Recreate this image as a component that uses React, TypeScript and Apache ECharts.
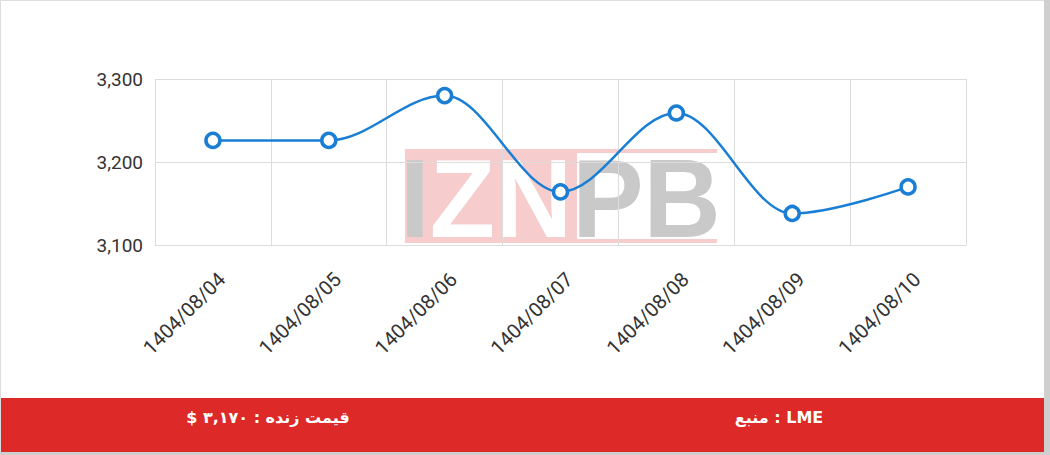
import React, { useEffect, useRef } from "react";
import * as echarts from "echarts";

const categories = [
  "1404/08/04",
  "1404/08/05",
  "1404/08/06",
  "1404/08/07",
  "1404/08/08",
  "1404/08/09",
  "1404/08/10",
];
const prices = [3226, 3226, 3280, 3164, 3259, 3138, 3170];
const yMin = 3100;
const yMax = 3300;
const yStep = 100;
const priceLabel = "$ قیمت زنده : ۳,۱۷۰";
const sourceLabel = "منبع : LME";
const watermarkText = "{g|I}{w|ZN}{g|PB}";

const LINE = "#1a7fd4";
const GRIDC = "#dcdcdc";
const PINK = "#f6cccc";
const WM_GRAY = "#c9c9c9";

export default function App() {
  const ref = useRef<HTMLDivElement>(null);
  useEffect(() => {
    if (!ref.current) return;
    const chart = echarts.init(ref.current, undefined, { renderer: "svg" });
    const wmFont = { fontSize: 112, fontWeight: "bold", fontFamily: "'Liberation Sans', Arial, sans-serif", lineHeight: 112 };
    const wm: any[] = [
      { type: "rect", z: -10, shape: { x: 405, y: 149, width: 172, height: 94 }, style: { fill: PINK } },
      { type: "rect", z: -10, shape: { x: 577, y: 149, width: 140, height: 4 }, style: { fill: PINK } },
      { type: "rect", z: -10, shape: { x: 577, y: 239, width: 140, height: 4 }, style: { fill: PINK } },
      {
        type: "text",
        z: -9,
        x: 400,
        y: 142,
        scaleX: 0.955,
        style: {
          text: watermarkText,
          align: "left",
          verticalAlign: "top",
          rich: {
            g: { ...wmFont, fill: WM_GRAY },
            w: { ...wmFont, fill: "#ffffff" },
          },
        },
      },
    ];
    chart.setOption({
      animation: false,
      backgroundColor: "#ffffff",
      grid: { left: 155, right: 84, top: 79, bottom: 210, containLabel: false },
      graphic: [
        { type: "rect", z: -20, shape: { x: 0, y: 0, width: 1050, height: 1 }, style: { fill: "#dddddd" } },
        { type: "rect", z: -20, shape: { x: 0, y: 0, width: 1, height: 455 }, style: { fill: "#dddddd" } },
        { type: "rect", z: -20, shape: { x: 1044, y: 0, width: 6, height: 455 }, style: { fill: "#cfcfcf" } },
        { type: "rect", z: -20, shape: { x: 0, y: 452, width: 1050, height: 3 }, style: { fill: "#cfcfcf" } },
        { type: "rect", z: -20, shape: { x: 1, y: 398, width: 1043, height: 54 }, style: { fill: "#de2929" } },
        ...wm,
        {
          type: "text",
          x: 268,
          y: 417,
          style: {
            text: priceLabel,
            fill: "#ffffff",
            font: "bold 16px 'DejaVu Sans', sans-serif",
            align: "center",
            verticalAlign: "middle",
          },
        },
        {
          type: "text",
          x: 779,
          y: 417,
          style: {
            text: sourceLabel,
            fill: "#ffffff",
            font: "bold 16px 'DejaVu Sans', sans-serif",
            align: "center",
            verticalAlign: "middle",
          },
        },
      ],
      xAxis: {
        type: "category",
        data: categories,
        boundaryGap: true,
        axisLine: { show: true, lineStyle: { color: GRIDC, width: 1 } },
        axisTick: { show: false },
        splitLine: { show: true, lineStyle: { color: GRIDC, width: 1 } },
        axisLabel: {
          interval: 0,
          rotate: 45,
          margin: 22,
          verticalAlign: "top",
          lineHeight: 25,
          fontSize: 20,
          fontFamily: "Roboto, sans-serif",
          color: "#333333",
        },
      },
      yAxis: {
        type: "value",
        min: yMin,
        max: yMax,
        interval: yStep,
        axisLine: { show: false },
        axisTick: { show: false },
        splitLine: { show: true, lineStyle: { color: GRIDC, width: 1 } },
        axisLabel: {
          margin: 12,
          fontSize: 19,
          fontFamily: "Roboto, sans-serif",
          color: "#333333",
          formatter: (v: number) => v.toLocaleString("en-US"),
        },
      },
      series: [
        {
          type: "line",
          data: prices,
          smooth: 0.35,
          smoothMonotone: "x",
          symbol: "circle",
          symbolSize: 14,
          showAllSymbol: true,
          lineStyle: { color: LINE, width: 2.5 },
          itemStyle: { color: "#ffffff", borderColor: LINE, borderWidth: 3.5 },
          z: 5,
        },
      ],
    });
    return () => chart.dispose();
  }, []);
  return (
    <div
      ref={ref}
      style={{ position: "absolute", left: 0, top: 0, width: 1050, height: 455 }}
    />
  );
}
